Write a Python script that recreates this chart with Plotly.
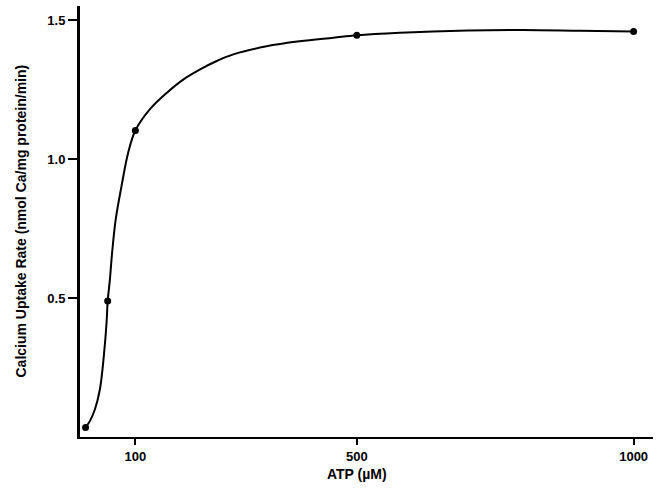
import plotly.graph_objects as go

# Measured ATP-dependent calcium uptake
atp_um = [10, 50, 100, 500, 1000]
uptake_rate = [0.034, 0.489, 1.103, 1.446, 1.459]

# Hand-drawn fitted curve through the measurements
curve_atp = [10, 18, 27, 36, 43, 48, 50, 54, 58, 64.5, 75, 87, 100, 126, 157,
             187, 217, 247, 277, 337, 397, 458, 500, 578, 700, 800, 903, 1000]
curve_rate = [0.034, 0.058, 0.10, 0.172, 0.291, 0.412, 0.489, 0.567, 0.663,
              0.783, 0.903, 1.023, 1.103, 1.179, 1.239, 1.287, 1.323, 1.353,
              1.377, 1.406, 1.424, 1.437, 1.446, 1.455, 1.463, 1.465, 1.462,
              1.459]

x_ticks = [100, 500, 1000]
y_ticks = [0.5, 1.0, 1.5]
y_tick_text = ["0.5", "1.0", "1.5"]

x_title = "ATP (µM)"
y_title = "Calcium Uptake Rate (nmol Ca/mg protein/min)"

FONT = "Liberation Sans, Arial, Helvetica, sans-serif"

fig = go.Figure()
fig.add_trace(go.Scatter(
    x=curve_atp, y=curve_rate, mode="lines",
    line=dict(color="black", width=2, shape="spline", smoothing=1.0),
    hoverinfo="skip", showlegend=False,
))
fig.add_trace(go.Scatter(
    x=atp_um, y=uptake_rate, mode="markers",
    marker=dict(color="black", size=7),
    showlegend=False,
))

fig.update_layout(
    width=662, height=488,
    margin=dict(l=80, r=9, t=6, b=51),
    paper_bgcolor="white", plot_bgcolor="white",
    font=dict(family=FONT, color="black", size=13, weight="bold"),
    xaxis=dict(
        range=[0, 1035], tickvals=x_ticks, ticks="outside", ticklen=6,
        tickwidth=1.5, tickcolor="black", showline=True, linewidth=2,
        linecolor="black", showgrid=False, zeroline=False,
        tickfont=dict(family=FONT, size=13, weight="bold"),
    ),
    yaxis=dict(
        range=[0, 1.551], tickvals=y_ticks, ticktext=y_tick_text,
        ticks="outside", ticklen=9, tickwidth=1.5, tickcolor="black",
        showline=True, linewidth=3, linecolor="black", showgrid=False,
        zeroline=False, tickfont=dict(family=FONT, size=13, weight="bold"),
    ),
    annotations=[
        dict(text=x_title, x=500, xref="x", y=0, yref="paper",
             yshift=-37, xanchor="center", yanchor="middle", showarrow=False,
             font=dict(family=FONT, size=14, weight="bold")),
        dict(text=y_title, x=0, xref="paper", y=0.5, yref="paper",
             xshift=-60, xanchor="center", yanchor="middle", textangle=-90,
             showarrow=False, font=dict(family=FONT, size=14, weight="bold")),
    ],
)

fig.write_html("out.html")
